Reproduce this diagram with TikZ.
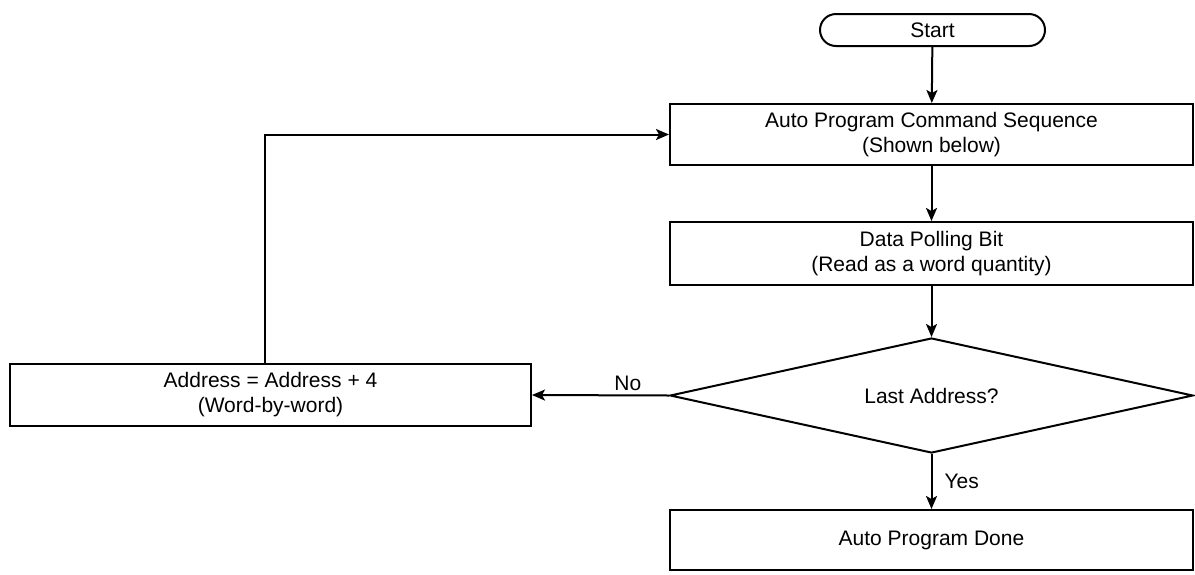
\documentclass[tikz,border=0pt]{standalone}
\usepackage{fontspec}
\setmainfont{Liberation Sans}
\usetikzlibrary{shapes.geometric,arrows.meta,calc}
\begin{document}
\begin{tikzpicture}[x=1pt,y=-1pt,
  every node/.style={font=\fontsize{21}{25}\selectfont},
  box/.style={draw,line width=2pt,rectangle,inner sep=0pt,align=center},
  arr/.style={line width=2pt,-{Stealth[length=13pt,width=11pt,inset=3pt]}},
  lbl/.style={draw=none,inner sep=0pt}]
\useasboundingbox (0,0) rectangle (1195,574);
\node[box,rounded corners=16pt,minimum width=225pt,minimum height=32pt] (st) at (932.5,30) {Start};
\node[box,minimum width=523pt,minimum height=61pt] (b1) at (931.5,134.5) {Auto Program Command Sequence\\(Shown below)};
\node[box,minimum width=523pt,minimum height=63pt] (b2) at (931.5,253.5) {Data Polling Bit\\(Read as a word quantity)};
\node[draw,line width=2pt,diamond,aspect=4.55,inner sep=0pt,minimum width=523pt,minimum height=115pt] (dm) at (931.5,395.5) {Last Address?};
\node[box,minimum width=521pt,minimum height=62pt] (lb) at (270.5,395) {Address = Address + 4\\(Word-by-word)};
\node[box,minimum width=523pt,minimum height=60pt] (dn) at (931.5,540) {Auto Program Done};
\draw[arr] (st) -- (b1);
\draw[arr] (b1) -- (b2);
\draw[arr] (b2) -- (dm);
\draw[arr] (dm.south) -- node[lbl,right=12pt] {Yes} (dn.north);
\draw[arr] (dm.west) -- node[lbl,pos=0.3,above=4pt] {No} (lb.east);
\draw[arr] ([xshift=-5.5pt]lb.north) |- (b1.west);
\end{tikzpicture}
\end{document}
